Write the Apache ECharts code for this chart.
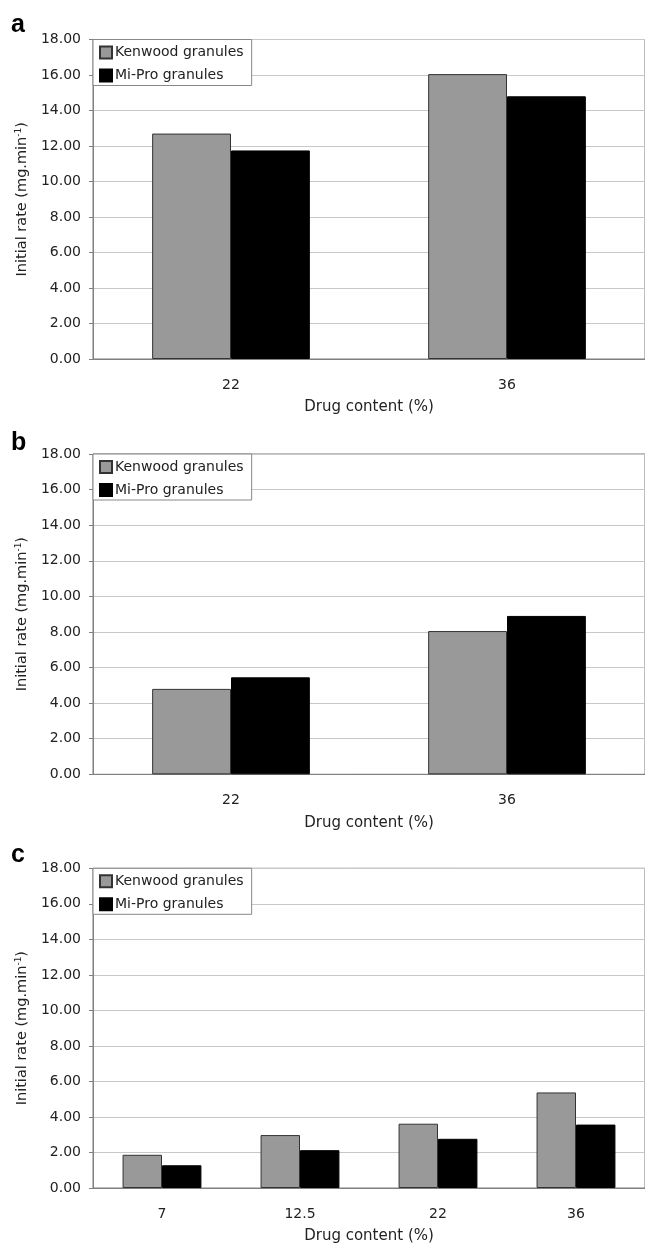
<!DOCTYPE html>
<html>
<head>
<meta charset="utf-8">
<script src="https://cdn.jsdelivr.net/npm/echarts@6/dist/echarts.min.js"></script>
<style>
  html, body { margin: 0; padding: 0; background: #fff; }
  #chart { width: 645px; height: 1245px; }
</style>
</head>
<body>
<div id="chart"></div>
<script>
// data
var panelNames = ['a', 'b', 'c'];
var seriesNames = ['Kenwood granules', 'Mi-Pro granules'];
var catsA = ['22', '36'];
var catsB = ['22', '36'];
var catsC = ['7', '12.5', '22', '36'];
var kenwoodA = [12.7, 16.05];
var miproA = [11.75, 14.8];
var kenwoodB = [4.8, 8.05];
var miproB = [5.45, 8.9];
var kenwoodC = [1.87, 2.98, 3.62, 5.38];
var miproC = [1.28, 2.13, 2.77, 3.57];
var yMin = 0, yMax = 18, yStep = 2;

var font = 'DejaVu Sans';
var cats = [catsA, catsB, catsC];
var kenwood = [kenwoodA, kenwoodB, kenwoodC];
var mipro = [miproA, miproB, miproC];
var tops = [39.5, 454, 868.3];
var heights = [319.5, 320.3, 321.7];
var letterTop = [13, 431, 843];

var grids = [], xAxes = [], yAxes = [], series = [], legends = [], titles = [];

for (var i = 0; i < 3; i++) {
  grids.push({
    left: 93, top: tops[i], width: 560, height: heights[i],
    show: true, borderColor: '#7a7a7a', borderWidth: 1
  });
  xAxes.push({
    type: 'category', gridIndex: i, data: cats[i],
    name: 'Drug content (%)', nameLocation: 'middle', nameGap: 41,
    nameTextStyle: { fontFamily: font, fontSize: 15, color: '#222' },
    axisLine: { lineStyle: { color: '#808080' } },
    axisTick: { length: 4, lineStyle: { color: '#c8c8c8' } },
    axisLabel: { fontFamily: font, fontSize: 14, color: '#222', margin: 19 }
  });
  yAxes.push({
    type: 'value', gridIndex: i, min: yMin, max: yMax, interval: yStep,
    name: '{t|Initial rate (mg.min}{s|-1}{t|)}',
    nameLocation: 'middle', nameGap: 57,
    nameTextStyle: {
      rich: {
        t: { fontFamily: font, fontSize: 14.5, color: '#222' },
        s: { fontFamily: font, fontSize: 9, color: '#222', verticalAlign: 'top', padding: [0, 0, 8, 0] }
      }
    },
    axisLine: { show: true, lineStyle: { color: '#808080' } },
    axisTick: { show: true, length: 4, lineStyle: { color: '#808080' } },
    splitLine: { lineStyle: { color: '#c8c8c8' } },
    axisLabel: {
      fontFamily: font, fontSize: 14, color: '#222', margin: 12,
      formatter: function (v) { return v.toFixed(2); }
    }
  });
  series.push({
    name: seriesNames[0], type: 'bar', xAxisIndex: i, yAxisIndex: i,
    data: kenwood[i], barGap: '0%', barCategoryGap: '42.86%',
    itemStyle: { color: '#999999', borderColor: '#333', borderWidth: 1 }
  });
  series.push({
    name: seriesNames[1], type: 'bar', xAxisIndex: i, yAxisIndex: i,
    data: mipro[i], barGap: '0%', barCategoryGap: '42.86%',
    itemStyle: { color: '#000000', borderColor: '#000', borderWidth: 1 }
  });
  legends.push({
    data: seriesNames, orient: 'vertical', left: 93, top: tops[i],
    backgroundColor: '#fff', borderColor: '#888', borderWidth: 1,
    padding: [5, 8, 2, 6], itemGap: 7, itemWidth: 12, itemHeight: 12,
    icon: 'rect', selectedMode: false,
    textStyle: { fontFamily: font, fontSize: 14, color: '#222', lineHeight: 16, padding: [0, 0, 0, -2] }
  });
  titles.push({
    text: panelNames[i], left: 11, top: letterTop[i], padding: 0,
    textStyle: { fontFamily: 'Liberation Sans', fontSize: 25, fontWeight: 'bold', color: '#000' }
  });
}

var chart = echarts.init(document.getElementById('chart'), null, { renderer: 'canvas' });
chart.setOption({
  animation: false,
  backgroundColor: '#fff',
  title: titles,
  legend: legends,
  grid: grids,
  xAxis: xAxes,
  yAxis: yAxes,
  series: series
});
</script>
</body>
</html>
